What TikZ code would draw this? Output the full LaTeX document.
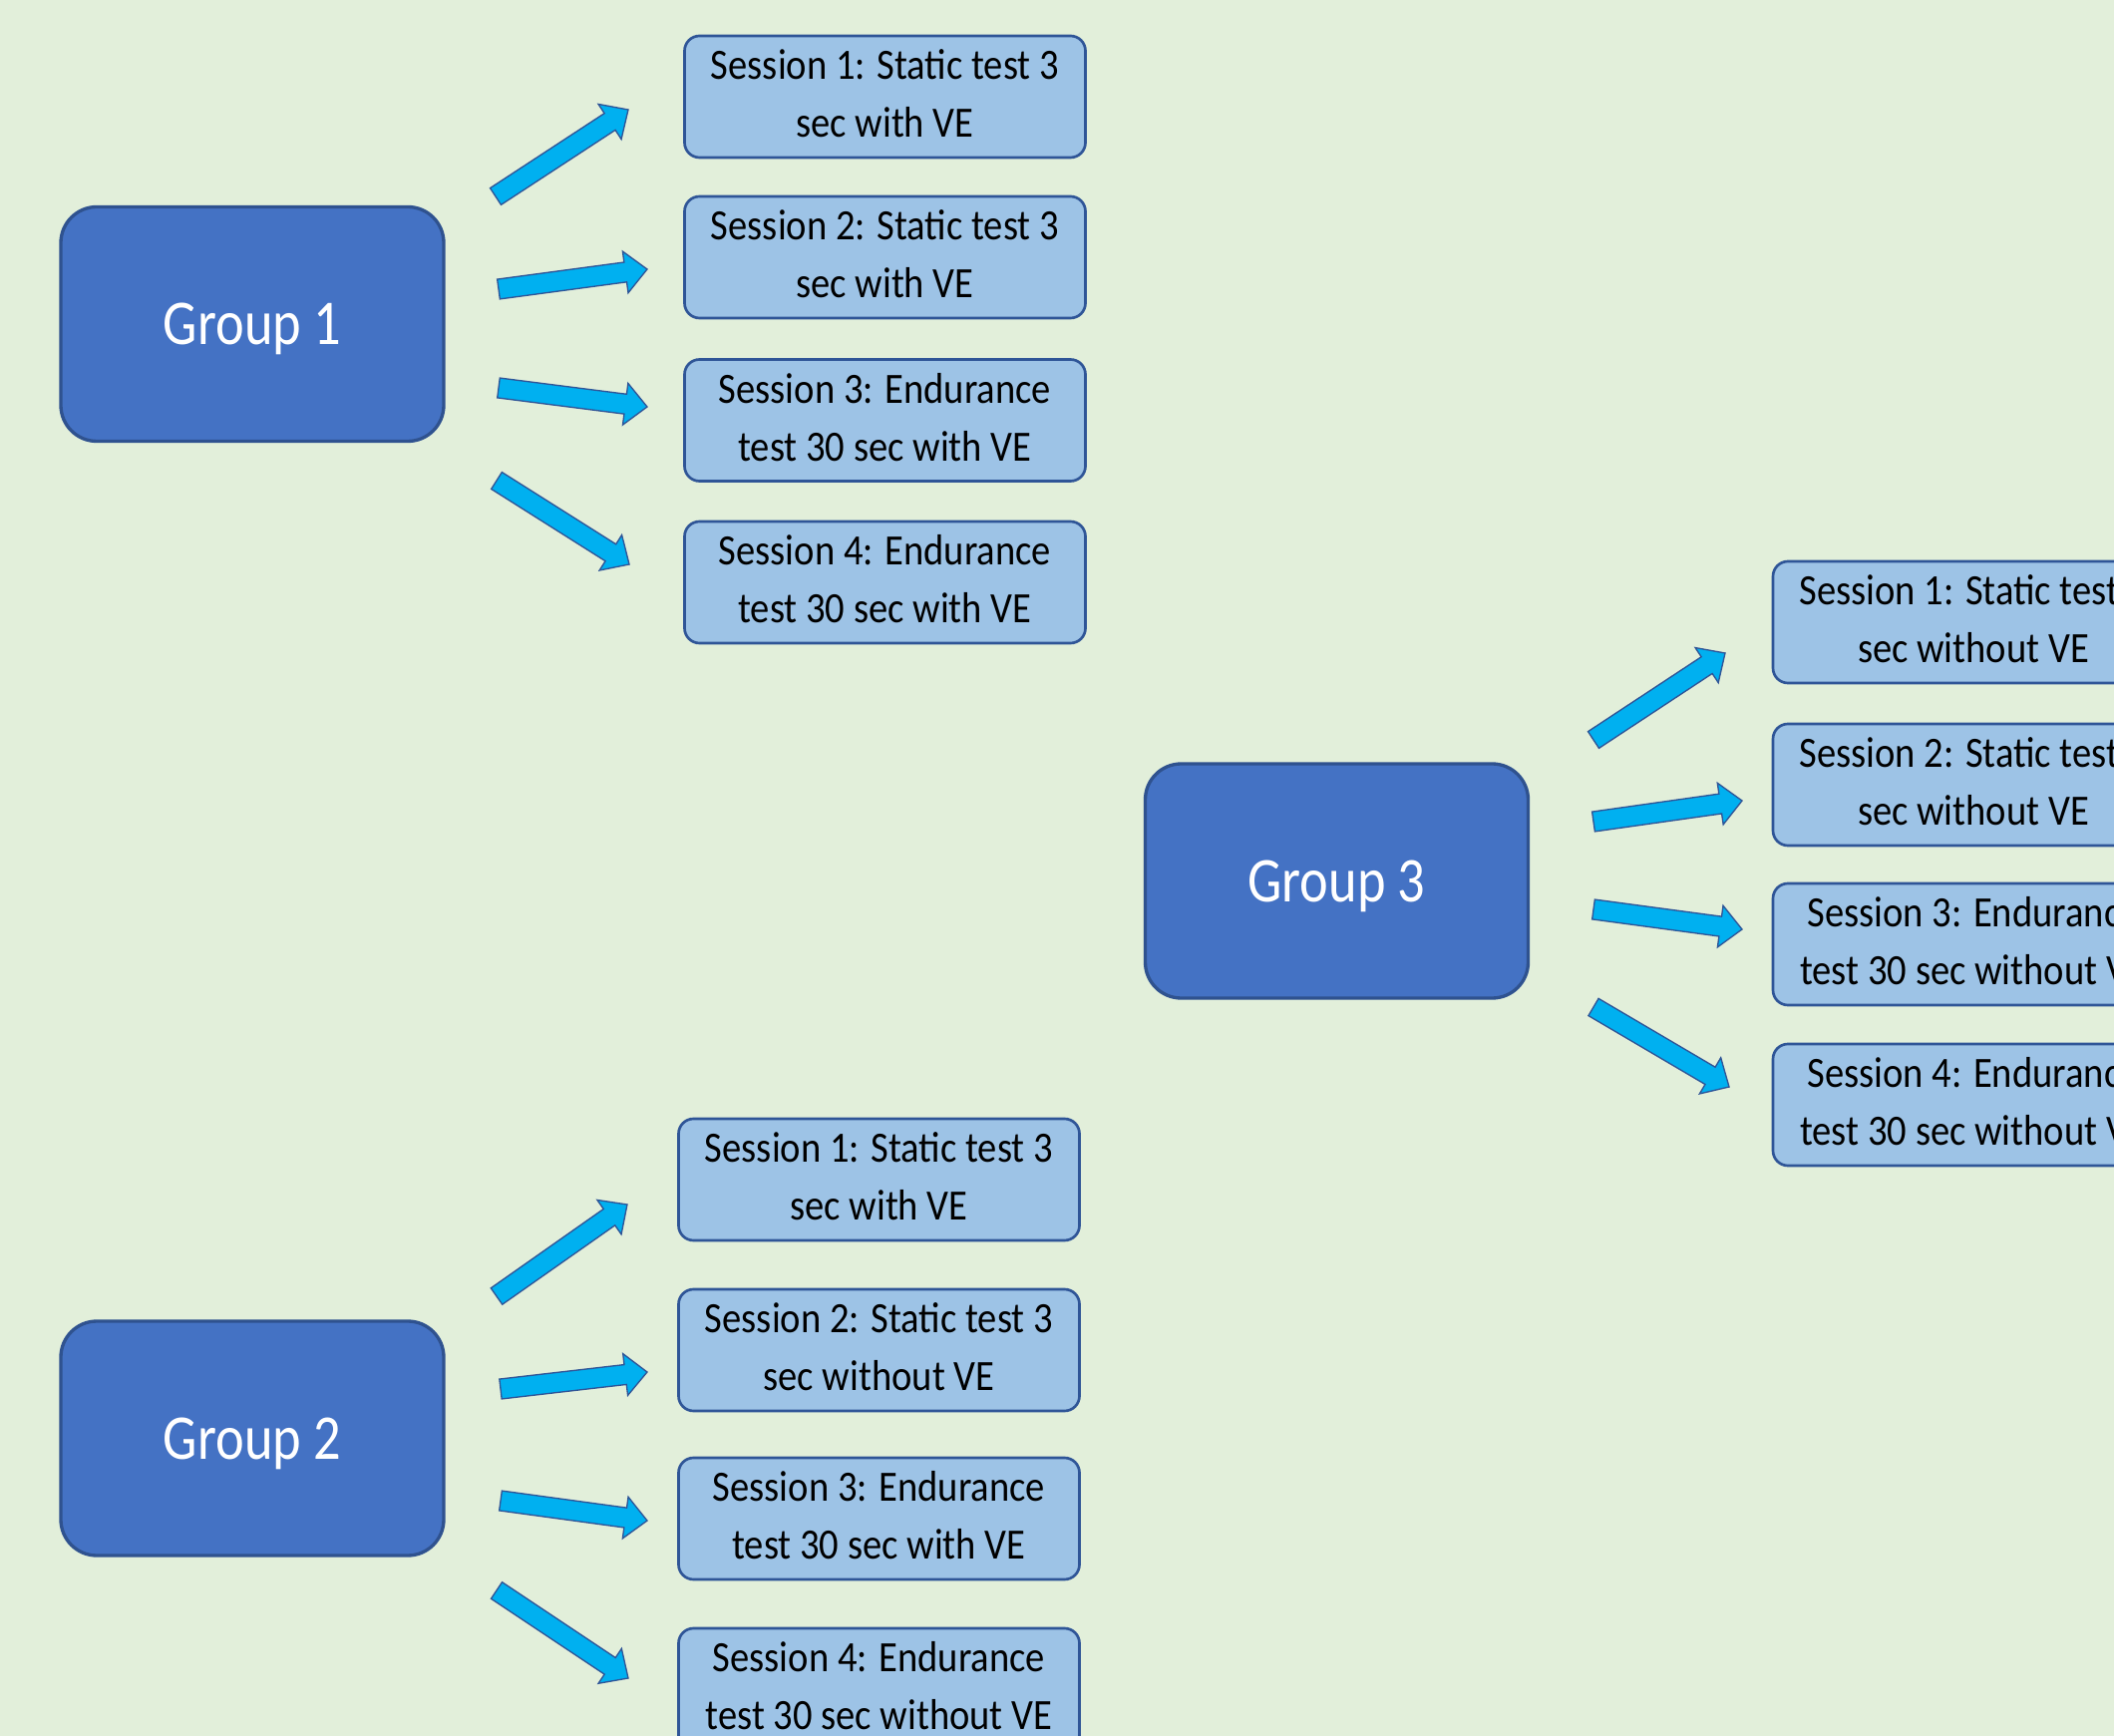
\documentclass[tikz,border=0pt]{standalone}
\usepackage{fontspec}
\setmainfont{Carlito}
\usepackage{graphicx}
\usetikzlibrary{calc}
\definecolor{bg}{HTML}{E2EFDA}
\definecolor{grpfill}{HTML}{4472C4}
\definecolor{grpline}{HTML}{2F528F}
\definecolor{sessfill}{HTML}{9DC3E6}
\definecolor{sessline}{HTML}{2F5597}
\definecolor{arrfill}{HTML}{00B0F0}
\newcommand\sesstext[2]{\scalebox{0.89}[1]{\begin{tabular}{@{}c@{}}#1\\#2\end{tabular}}}
\newcommand\grptext[1]{\scalebox{0.85}[1]{#1}}
\newcommand\blockarrow[2]{%
  \coordinate (ab) at ($(#2)!6.6pt!(#1)$);
  \draw[blockarr] ($(#1)!3pt!90:(#2)$) -- ($(ab)!3pt!90:(#2)$) -- ($(ab)!6.3pt!90:(#2)$) -- (#2)
    -- ($(ab)!6.3pt!-90:(#2)$) -- ($(ab)!3pt!-90:(#2)$) -- ($(#1)!3pt!-90:(#2)$) -- cycle;}
\tikzset{
  grp/.style={draw=grpline, line width=1pt, fill=grpfill, rounded corners=10.8pt,
    minimum width=115.2pt, minimum height=70.5pt, inner sep=0pt, text=white,
    text depth=0pt, font=\fontsize{19.2}{23}\selectfont},
  sess/.style={draw=sessline, line width=0.8pt, fill=sessfill, rounded corners=4.5pt,
    minimum width=120.6pt, minimum height=36.6pt, inner sep=0pt,
    font=\fontsize{13}{17.4}\selectfont},
  blockarr/.style={fill=arrfill, draw=sessline, line width=0.4pt, line join=miter}
}
\begin{document}
\begin{tikzpicture}[x=0.3pt,y=-0.3pt]
\fill[bg] (0,0) rectangle (2120,1741);
\useasboundingbox (0,0) rectangle (2120,1741);
\clip (0,0) rectangle (2120,1741);
% groups
\node[grp] (g1) at (253,325) {\grptext{Group 1}};
\node[grp] (g2) at (253,1442.5) {\grptext{Group 2}};
\node[grp] (g3) at (1340.5,883.5) {\grptext{Group 3}};
% group 1 sessions
\node[sess] (g1s1) at (887.5,97) {\sesstext{Session 1: Static test 3}{sec with VE}};
\node[sess] (g1s2) at (887.5,258) {\sesstext{Session 2: Static test 3}{sec with VE}};
\node[sess] (g1s3) at (887.5,421.5) {\sesstext{Session 3: Endurance}{test 30 sec with VE}};
\node[sess] (g1s4) at (887.5,584) {\sesstext{Session 4: Endurance}{test 30 sec with VE}};
% group 2 sessions
\node[sess] (g2s1) at (881.5,1183) {\sesstext{Session 1: Static test 3}{sec with VE}};
\node[sess] (g2s2) at (881.5,1354) {\sesstext{Session 2: Static test 3}{sec without VE}};
\node[sess] (g2s3) at (881.5,1523) {\sesstext{Session 3: Endurance}{test 30 sec with VE}};
\node[sess] (g2s4) at (881.5,1694) {\sesstext{Session 4: Endurance}{test 30 sec without VE}};
% group 3 sessions
\node[sess] (g3s1) at (1979,624) {\sesstext{Session 1: Static test 3}{sec without VE}};
\node[sess] (g3s2) at (1979,787) {\sesstext{Session 2: Static test 3}{sec without VE}};
\node[sess] (g3s3) at (1979,947) {\sesstext{Session 3: Endurance}{test 30 sec without VE}};
\node[sess] (g3s4) at (1979,1108) {\sesstext{Session 4: Endurance}{test 30 sec without VE}};
% arrow end points
\coordinate (g1a1t) at (497,197);  \coordinate (g1a1h) at (630,110);
\coordinate (g1a2t) at (500,290);  \coordinate (g1a2h) at (649,270);
\coordinate (g1a3t) at (500,389);  \coordinate (g1a3h) at (649,408);
\coordinate (g1a4t) at (498,482);  \coordinate (g1a4h) at (631,566);
\coordinate (g2a1t) at (498,1300); \coordinate (g2a1h) at (629,1208);
\coordinate (g2a2t) at (502,1393); \coordinate (g2a2h) at (649,1376);
\coordinate (g2a3t) at (502,1505); \coordinate (g2a3h) at (649,1525);
\coordinate (g2a4t) at (498,1595); \coordinate (g2a4h) at (630,1683);
\coordinate (g3a1t) at (1598,742); \coordinate (g3a1h) at (1730,655);
\coordinate (g3a2t) at (1598,824); \coordinate (g3a2h) at (1747,803);
\coordinate (g3a3t) at (1598,912); \coordinate (g3a3h) at (1747,932);
\coordinate (g3a4t) at (1598,1010); \coordinate (g3a4h) at (1734,1090);
% arrows
\blockarrow{g1a1t}{g1a1h}
\blockarrow{g1a2t}{g1a2h}
\blockarrow{g1a3t}{g1a3h}
\blockarrow{g1a4t}{g1a4h}
\blockarrow{g2a1t}{g2a1h}
\blockarrow{g2a2t}{g2a2h}
\blockarrow{g2a3t}{g2a3h}
\blockarrow{g2a4t}{g2a4h}
\blockarrow{g3a1t}{g3a1h}
\blockarrow{g3a2t}{g3a2h}
\blockarrow{g3a3t}{g3a3h}
\blockarrow{g3a4t}{g3a4h}
\end{tikzpicture}
\end{document}
